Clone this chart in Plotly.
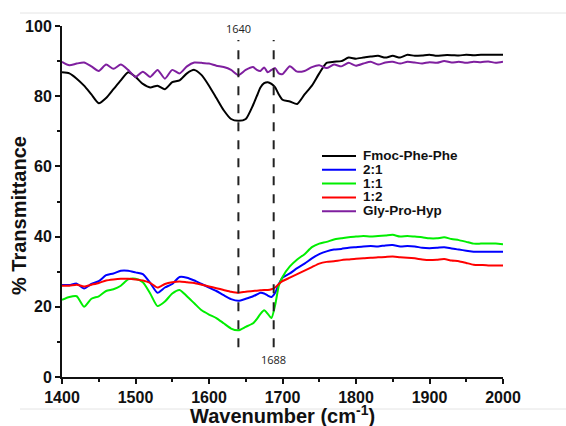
import plotly.graph_objects as go

# Wavenumber grid (cm^-1), finer around the amide I region
wavenumber = list(range(1400, 1660, 10)) + list(range(1660, 1700, 5)) + list(range(1700, 2001, 10))

fmoc_phe_phe = [
    86.8, 86.5, 85.0, 83.0, 80.5, 78.0, 79.5, 82.0, 84.5, 86.8,
    85.5, 83.5, 82.5, 83.0, 82.0, 84.0, 84.5, 86.5, 87.5, 86.0,
    83.0, 79.5, 76.0, 73.5, 73.0, 73.5,
    77.5, 80.0, 82.5, 83.7, 84.0, 83.5, 82.5, 80.5,
    79.0, 78.5, 77.8, 80.5, 83.0, 86.5, 89.5, 89.8, 90.0, 91.0,
    90.7, 91.0, 91.3, 91.5, 91.0, 91.5, 91.0, 91.8, 91.5, 91.6,
    91.8, 91.5, 91.7, 91.7, 91.6, 91.8, 91.7, 91.8, 91.8, 91.8, 91.8,
]
ratio_2_1 = [
    26.2, 26.2, 26.6, 25.2, 26.5, 27.3, 29.0, 29.5, 30.3, 30.3,
    29.8, 29.3, 26.8, 24.0, 25.5, 26.5, 28.5, 28.3, 27.5, 26.5,
    25.5, 24.5, 23.3, 22.2, 21.7, 22.3,
    23.0, 23.5, 24.0, 23.8, 23.2, 22.8, 24.0, 26.5,
    28.3, 29.5, 31.0, 32.3, 33.8, 35.0, 35.8, 36.3, 36.5, 36.8,
    37.0, 37.2, 37.3, 37.2, 37.5, 37.6, 37.2, 37.3, 37.2, 36.8,
    36.7, 36.8, 37.0, 36.6, 36.3, 36.0, 35.7, 35.7, 35.7, 35.7, 35.7,
]
ratio_1_1 = [
    22.0, 22.8, 23.0, 20.0, 22.3, 23.0, 24.5, 25.0, 26.0, 27.8,
    28.0, 27.0, 23.8, 20.2, 21.5, 23.8, 24.8, 23.0, 21.0, 19.0,
    17.8, 16.8, 15.3, 13.8, 13.3, 14.3,
    15.3, 16.5, 18.0, 19.0, 18.0, 16.8, 20.5, 26.0,
    28.5, 31.5, 33.5, 35.0, 37.0, 38.0, 38.5, 39.2, 39.5, 39.8,
    40.0, 40.2, 40.0, 40.2, 40.3, 40.5, 40.0, 40.2, 40.0, 39.8,
    39.5, 39.5, 39.8, 39.3, 39.0, 38.5, 38.0, 38.0, 38.0, 38.0, 37.8,
]
ratio_1_2 = [
    26.0, 26.0, 26.3, 25.8, 26.3, 26.8, 27.5, 27.8, 28.0, 28.0,
    27.8, 27.5, 26.8, 25.5, 26.5, 27.0, 27.2, 27.0, 26.8, 26.3,
    25.8, 25.3, 24.8, 24.3, 24.0, 24.3,
    24.5, 24.6, 24.7, 24.8, 24.8, 25.0, 25.5, 26.5,
    27.3, 28.3, 29.3, 30.3, 31.3, 32.3, 32.8, 33.0, 33.3, 33.5,
    33.7, 33.8, 34.0, 34.1, 34.2, 34.3, 34.1, 34.0, 33.8, 33.5,
    33.3, 33.4, 33.6, 33.2, 33.0, 32.5, 32.0, 31.9, 31.8, 31.8, 31.8,
]
gly_pro_hyp = [
    89.8, 88.8, 89.3, 89.6, 88.5, 87.2, 89.0, 87.8, 89.0, 87.5,
    85.5, 87.0, 85.5, 87.5, 85.0, 87.5, 86.5, 88.5, 89.6, 89.5,
    89.3, 88.7, 88.3, 87.5, 86.0, 87.5,
    88.3, 87.5, 87.2, 88.2, 86.8, 87.5, 88.0, 86.5,
    86.3, 88.5, 87.0, 87.2, 88.3, 88.8, 88.0, 89.0, 88.5, 89.5,
    88.7, 89.3, 89.8, 89.0, 89.6, 89.8, 89.3, 89.8, 89.6, 89.3,
    89.7, 89.5, 90.0, 89.6, 89.8, 89.5, 89.8, 89.7, 89.9, 89.5, 89.8,
]

series_names = ["Fmoc-Phe-Phe", "2:1", "1:1", "1:2", "Gly-Pro-Hyp"]
series_values = [fmoc_phe_phe, ratio_2_1, ratio_1_1, ratio_1_2, gly_pro_hyp]
series_colors = ["#000000", "#0000ff", "#00ee00", "#ff0000", "#7f1f9f"]
for vals in series_values:
    assert len(vals) == len(wavenumber), len(vals)

marker_positions = [1640, 1688]
marker_labels = ["1640", "1688"]

fig = go.Figure()
for name, vals, color in zip(series_names, series_values, series_colors):
    fig.add_trace(go.Scatter(
        x=wavenumber, y=vals, name=name, mode="lines", showlegend=False,
        line=dict(color=color, width=2, shape="spline", smoothing=0.6),
    ))

# dashed guide lines at the amide bands
for xpos in marker_positions:
    fig.add_shape(type="line", x0=xpos, x1=xpos, y0=8.5, y1=96,
                  xref="x", yref="y",
                  line=dict(color="#222222", width=2, dash="dash"))

fig.add_annotation(x=marker_positions[0], y=99.4, text=marker_labels[0],
                   showarrow=False, font=dict(family="Open Sans", size=11, color="#222"))
fig.add_annotation(x=marker_positions[1], y=5.0, text=marker_labels[1],
                   showarrow=False, font=dict(family="Open Sans", size=11, color="#222"))

# pixel -> paper helpers for the fixed plot area
plot_left, plot_w, plot_bottom, plot_h = 62, 441, 377, 351
def px_x(px):
    return (px - plot_left) / plot_w
def px_y(py):
    return (plot_bottom - py) / plot_h

# legend block: short line sample followed by bold label
legend_top_px = 156
row_px = 13.8
for i, (name, color) in enumerate(zip(series_names, series_colors)):
    yp = px_y(legend_top_px + row_px * i)
    fig.add_shape(type="line", xref="paper", yref="paper",
                  x0=px_x(322), x1=px_x(356), y0=yp, y1=yp,
                  line=dict(color=color, width=2))
    fig.add_annotation(xref="paper", yref="paper", x=px_x(362), y=yp,
                       xanchor="left", yanchor="middle", showarrow=False,
                       text="<b>" + name + "</b>", height=row_px, borderpad=0,
                       font=dict(family="Liberation Sans, Arial", size=13.5, color="#111"))

# faint frame lines along the top and bottom edges of the figure
for ypx in (13, 409):
    fig.add_shape(type="line", xref="paper", yref="paper",
                  x0=px_x(20), x1=px_x(566), y0=px_y(ypx), y1=px_y(ypx),
                  line=dict(color="#e4e4e4", width=1), layer="below")

title_font = dict(family="Liberation Sans, Arial", size=20, color="#111")
fig.add_annotation(xref="paper", yref="paper", x=0.5, y=px_y(414),
                   xanchor="center", yanchor="middle", showarrow=False,
                   borderpad=0,
                   text="<b>Wavenumber (cm<sup>-1</sup>)</b>", font=title_font)
fig.add_annotation(xref="paper", yref="paper", x=px_x(19), y=px_y(216),
                   xanchor="center", yanchor="middle", showarrow=False, textangle=-90,
                   text="<b>% Transmittance</b>", font=title_font)

axis_font = dict(family="Liberation Sans, Arial", size=16, color="#111")
fig.update_layout(
    width=566, height=426,
    margin=dict(l=62, r=63, t=26, b=49),
    paper_bgcolor="white", plot_bgcolor="white",
    showlegend=False,
    xaxis=dict(
        range=[1400, 2000], showgrid=False, zeroline=False, automargin=False,
        showline=True, linecolor="#111", linewidth=2,
        ticks="outside", ticklen=5, tickwidth=2, tickcolor="#111",
        dtick=100, tick0=1400,
        minor=dict(dtick=50, ticks="outside", ticklen=3, tickwidth=2, tickcolor="#111"),
        tickfont=axis_font,
        tickprefix="<b>", ticksuffix="</b>",
    ),
    yaxis=dict(
        range=[0, 100], showgrid=False, zeroline=False, automargin=False,
        showline=True, linecolor="#111", linewidth=2,
        ticks="outside", ticklen=5, tickwidth=2, tickcolor="#111",
        dtick=20,
        minor=dict(dtick=10, ticks="outside", ticklen=3, tickwidth=2, tickcolor="#111"),
        tickfont=axis_font,
        tickprefix="<b>", ticksuffix="</b>",
    ),
)

fig.write_html("out.html")
